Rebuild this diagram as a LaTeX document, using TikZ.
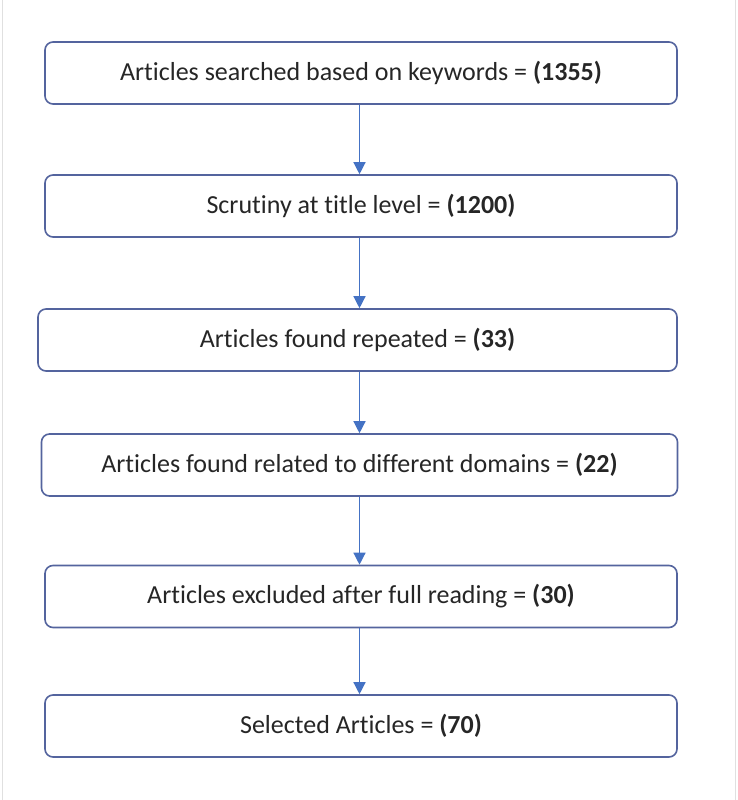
\documentclass[tikz,border=0pt]{standalone}
\usepackage{fontspec}
\setmainfont{Carlito}[Ligatures={NoCommon}]
\usetikzlibrary{arrows.meta}
\definecolor{boxline}{RGB}{84,100,158}
\definecolor{arrowblue}{RGB}{68,114,196}
\begin{document}
\begin{tikzpicture}[x=1pt,y=-1pt,
  flowbox/.style={draw=boxline,line width=1.6pt,rounded corners=8pt,fill=white,
    minimum height=62pt,inner sep=0pt,font=\fontsize{26}{30}\selectfont,text=black!85},
  flowarrow/.style={draw=arrowblue,line width=1.3pt,-{Triangle[length=12pt,width=12pt]}}]
\useasboundingbox (0,0) rectangle (738,800);
\fill[white] (0,0) rectangle (738,800);
\draw[black!12,line width=1pt] (2,0) -- (2,800);
\draw[black!12,line width=1pt] (735,0) -- (735,800);
\node[flowbox,minimum width=632pt] (b1) at (361,73) {Articles searched based on keywords = \textbf{(1355)}};
\node[flowbox,minimum width=632pt] (b2) at (361,206) {Scrutiny at title level = \textbf{(1200)}};
\node[flowbox,minimum width=639pt] (b3) at (357.5,340) {Articles found repeated = \textbf{(33)}};
\node[flowbox,minimum width=636pt] (b4) at (359.5,465) {Articles found related to different domains = \textbf{(22)}};
\node[flowbox,minimum width=632pt] (b5) at (361,596.5) {Articles excluded after full reading = \textbf{(30)}};
\node[flowbox,minimum width=632pt] (b6) at (361,726) {Selected Articles = \textbf{(70)}};
\coordinate (ax) at (359.5,0);
\foreach \a/\b in {b1/b2,b2/b3,b3/b4,b4/b5,b5/b6}{
  \draw[flowarrow] (ax |- \a.south) -- (ax |- \b.north);
}
\end{tikzpicture}
\end{document}
